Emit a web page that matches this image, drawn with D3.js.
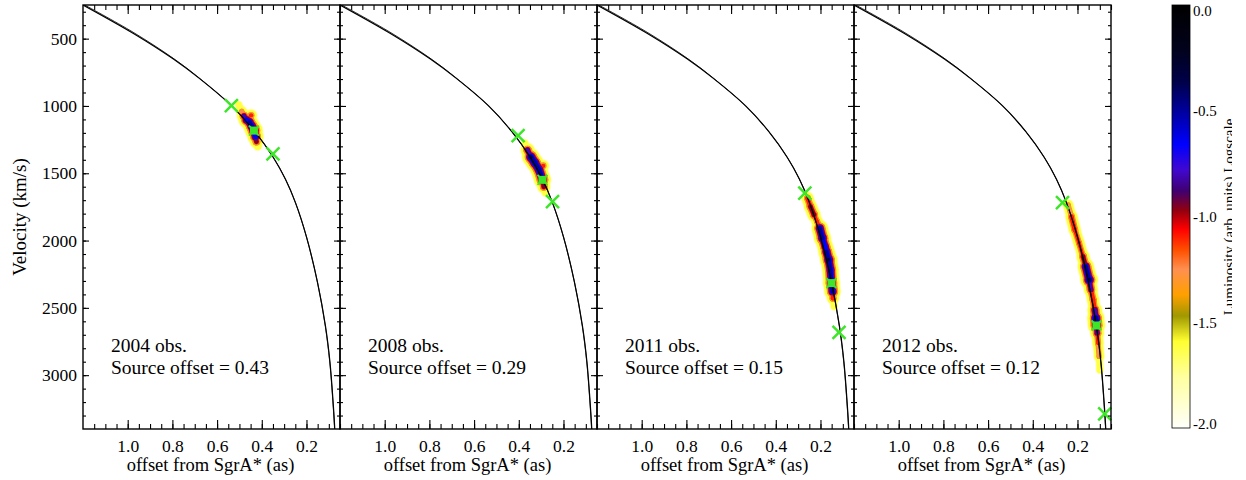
<!DOCTYPE html>
<html>
<head>
<meta charset="utf-8">
<script src="https://cdn.jsdelivr.net/npm/d3@7"></script>
<style>
  body { margin: 0; background: #fff; }
  svg { font-family: "Liberation Serif", "DejaVu Serif", serif; }
</style>
</head>
<body>
<div class="chart"></div>
<script>
// values
var panelYears = ["2004", "2008", "2011", "2012"];
var sourceLabels = ["0.43", "0.29", "0.15", "0.12"];
var xTicks = [1.0, 0.8, 0.6, 0.4, 0.2];
var yTicks = [500, 1000, 1500, 2000, 2500, 3000];
var cbarTicks = [0.0, -0.5, -1.0, -1.5, -2.0];

// orbit model: offset from SgrA* (as) vs velocity (km/s)
var modelOffset = [1.2, 0.976, 0.797, 0.678, 0.536, 0.431, 0.349, 0.294, 0.249, 0.200, 0.151, 0.115, 0.095, 0.078, 0.072];
var modelVelocity = [250, 460, 650, 797, 998, 1191, 1381, 1545, 1720, 1973, 2308, 2635, 2902, 3269, 3443];
// second (nearly identical) model line
var modelOffsetB = [1.2, 0.976, 0.797, 0.678, 0.536, 0.431, 0.349, 0.294, 0.249, 0.200, 0.151, 0.116, 0.096, 0.079, 0.073];
var modelVelocityB = [243, 452, 645, 795, 998, 1191, 1381, 1545, 1720, 1973, 2308, 2635, 2902, 3269, 3443];

// green crosses and the source position in each panel
var crossOffset = [[0.536, 0.350], [0.403, 0.249], [0.270, 0.117], [0.267, 0.078]];
var crossVelocity = [[998, 1356], [1220, 1710], [1648, 2683], [1718, 3287]];
var sourceOffset = [0.435, 0.294, 0.151, 0.115];
var sourceVelocity = [1183, 1549, 2316, 2631];

// emission knots: [offset, velocity, log luminosity]
var emission2004 = [
  [0.503, 992, -1.6], [0.490, 1040, -1.2], [0.480, 1075, -0.8], [0.468, 1104, -0.55],
  [0.455, 1120, -0.5], [0.445, 1150, -0.45], [0.435, 1183, -0.3], [0.428, 1228, -0.55],
  [0.424, 1265, -0.9], [0.418, 1300, -1.5], [0.448, 1070, -1.0]
];
var emission2008 = [
  [0.373, 1275, -1.6], [0.361, 1327, -0.8], [0.346, 1379, -0.35], [0.328, 1423, -0.4],
  [0.309, 1475, -0.45], [0.294, 1549, -0.4], [0.288, 1601, -0.9], [0.281, 1646, -1.6],
  [0.291, 1445, -1.0]
];
var emission2011 = [
  [0.258, 1685, -1.0], [0.245, 1747, -0.9], [0.229, 1809, -0.85], [0.215, 1859, -1.1],
  [0.203, 1908, -0.5], [0.191, 1982, -0.4], [0.179, 2045, -0.6], [0.173, 2082, -0.5],
  [0.163, 2143, -0.35], [0.155, 2218, -0.5], [0.151, 2316, -0.4], [0.146, 2379, -0.5],
  [0.144, 2428, -1.0], [0.139, 2490, -1.6]
];
var emission2012 = [
  [0.242, 1735, -1.2], [0.227, 1822, -1.0], [0.212, 1921, -1.0], [0.193, 2019, -1.1],
  [0.175, 2119, -0.9], [0.163, 2193, -0.5], [0.148, 2292, -0.3], [0.140, 2366, -0.8],
  [0.130, 2440, -1.0], [0.123, 2515, -0.7], [0.118, 2576, -0.4], [0.115, 2631, -0.4],
  [0.112, 2688, -0.8], [0.108, 2762, -1.1], [0.103, 2861, -1.2], [0.100, 2960, -1.6]
];
var emission = [emission2004, emission2008, emission2011, emission2012];

// colour table of the luminosity bar
var cmapValues = [0, -0.21, -0.36, -0.52, -0.66, -0.78, -0.88, -0.97, -1.06, -1.16, -1.25, -1.37, -1.47, -1.59, -1.76, -2.0];
var cmapColors = ["#000000", "#02021c", "#000048", "#0000a8", "#0000ff", "#4008d0", "#400070", "#900010", "#ff0000", "#ff5000", "#ff9050", "#ffa000", "#a09800", "#ffff30", "#ffffa0", "#fffffa"];

var width = 1246;
var height = 480;
var margin = {left: 83, top: 5};
var panelW = 257;
var panelH = 424;
var serif = '"Liberation Serif", "DejaVu Serif", serif';
var green = "#3de628";

var svg = d3.select(".chart")
  .append("svg")
  .attr("width", width)
  .attr("height", height);

var x = d3.scaleLinear().domain([1.2, 0.05]).range([0, panelW]);
var y = d3.scaleLinear().domain([250, 3400]).range([0, panelH]);
var cmap = d3.scaleLinear().domain(cmapValues).range(cmapColors);

var xMinor = d3.range(1, 24).map(i => i * 0.05);
var yMinor = d3.range(3, 34).map(i => i * 100);
// contour levels used to paint the emission
var levels = [-1.9, -1.75, -1.62, -1.4, -1.25, -1.1, -0.95, -0.8, -0.65, -0.5, -0.35, -0.2];

// radius of a knot at a given luminosity level
function radius(L, lev) {
  return 1.8 + 4.2 * (L - lev) + (lev < -1.5 ? 1.2 : 0);
}

var line = d3.line().curve(d3.curveCatmullRom.alpha(0.5));

function styleAxis(g) {
  g.select(".domain").remove();
  g.attr("font-family", serif).attr("font-size", 17.5);
  g.selectAll("line").attr("stroke", "#000").attr("stroke-width", 1.1);
  g.selectAll("text").attr("fill", "#000");
}

panelYears.forEach(function(year, p) {
  var g = svg.append("g")
    .attr("transform", `translate(${margin.left + p * panelW},${margin.top})`);

  g.append("clipPath").attr("id", "clip" + p)
    .append("rect").attr("width", panelW).attr("height", panelH);

  var plot = g.append("g").attr("clip-path", `url(#clip${p})`);

  // emission, drawn as nested luminosity levels
  var knots = emission[p].map(d => ({x: x(d[0]), y: y(d[1]), L: d[2]}));
  levels.forEach(function(lev) {
    var lg = plot.append("g")
      .attr("fill", cmap(lev))
      .attr("stroke", cmap(lev))
      .attr("stroke-linecap", "round");
    for (var i = 0; i < knots.length - 1; i++) {
      var a = knots[i], b = knots[i + 1];
      var dist = Math.hypot(a.x - b.x, a.y - b.y);
      if (a.L >= lev && b.L >= lev && dist < 18) {
        lg.append("line")
          .attr("x1", a.x).attr("y1", a.y)
          .attr("x2", b.x).attr("y2", b.y)
          .attr("stroke-width", 2 * radius(Math.min(a.L, b.L), lev));
      }
    }
    lg.selectAll("circle")
      .data(knots.filter(d => d.L >= lev))
      .enter().append("circle")
      .attr("stroke", "none")
      .attr("cx", d => d.x)
      .attr("cy", d => d.y)
      .attr("r", d => radius(d.L, lev));
  });

  // model lines
  plot.append("path")
    .attr("d", line(modelOffsetB.map((o, i) => [x(o), y(modelVelocityB[i])])))
    .attr("fill", "none").attr("stroke", "#000").attr("stroke-width", 0.8);
  plot.append("path")
    .attr("d", line(modelOffset.map((o, i) => [x(o), y(modelVelocity[i])])))
    .attr("fill", "none").attr("stroke", "#000").attr("stroke-width", 1.2);

  // crosses
  crossOffset[p].forEach(function(o, i) {
    g.append("path")
      .attr("transform", `translate(${x(o)},${y(crossVelocity[p][i])})`)
      .attr("d", "M-6.5,-6.5L6.5,6.5M-6.5,6.5L6.5,-6.5")
      .attr("stroke", green).attr("stroke-width", 2.5).attr("fill", "none");
  });

  // source position
  var sq = g.append("g")
    .attr("transform", `translate(${x(sourceOffset[p])},${y(sourceVelocity[p])})`);
  sq.append("rect").attr("x", -4).attr("y", -4).attr("width", 8).attr("height", 8).attr("fill", green);
  sq.append("path").attr("d", "M-5,-5L5,5M-5,5L5,-5").attr("stroke", green).attr("stroke-width", 2);

  // axes, ticks pointing inward on all four sides
  g.append("g").attr("transform", `translate(0,${panelH})`)
    .call(d3.axisBottom(x).tickValues(xTicks).tickSizeInner(-9).tickSizeOuter(0).tickPadding(11).tickFormat(d3.format(".1f")))
    .call(styleAxis);
  g.append("g").attr("transform", `translate(0,${panelH})`)
    .call(d3.axisBottom(x).tickValues(xMinor).tickSizeInner(-5).tickSizeOuter(0).tickFormat(""))
    .call(styleAxis);
  g.append("g")
    .call(d3.axisTop(x).tickValues(xTicks).tickSizeInner(-9).tickSizeOuter(0).tickFormat(""))
    .call(styleAxis);
  g.append("g")
    .call(d3.axisTop(x).tickValues(xMinor).tickSizeInner(-5).tickSizeOuter(0).tickFormat(""))
    .call(styleAxis);
  g.append("g")
    .call(d3.axisLeft(y).tickValues(yTicks).tickSizeInner(-6).tickSizeOuter(0).tickPadding(6)
      .tickFormat(p === 0 ? d3.format("d") : ""))
    .call(styleAxis);
  g.append("g")
    .call(d3.axisLeft(y).tickValues(yMinor).tickSizeInner(-3).tickSizeOuter(0).tickFormat(""))
    .call(styleAxis);
  g.append("g").attr("transform", `translate(${panelW},0)`)
    .call(d3.axisRight(y).tickValues(yTicks).tickSizeInner(-6).tickSizeOuter(0).tickFormat(""))
    .call(styleAxis);
  g.append("g").attr("transform", `translate(${panelW},0)`)
    .call(d3.axisRight(y).tickValues(yMinor).tickSizeInner(-3).tickSizeOuter(0).tickFormat(""))
    .call(styleAxis);

  // frame
  g.append("rect")
    .attr("width", panelW).attr("height", panelH)
    .attr("fill", "none").attr("stroke", "#000").attr("stroke-width", 1.4);

  // x-axis title
  g.append("text")
    .attr("x", panelW / 2 - 1)
    .attr("y", panelH + 42)
    .attr("text-anchor", "middle")
    .style("font-size", "18.5px")
    .text("offset from SgrA* (as)");

  // panel labels
  g.append("text").attr("x", 28).attr("y", 347)
    .style("font-size", "19.5px").text(year + " obs.");
  g.append("text").attr("x", 28).attr("y", 369)
    .style("font-size", "19.5px").text("Source offset = " + sourceLabels[p]);
});

// y-axis title
svg.append("text")
  .attr("text-anchor", "middle")
  .attr("transform", `translate(26,${margin.top + panelH / 2}) rotate(-90)`)
  .style("font-size", "19px")
  .text("Velocity (km/s)");

// colour bar
var cb = {x: 1172, y: 5, w: 18, h: 423};
var cbScale = d3.scaleLinear().domain([0, -2]).range([cb.y, cb.y + cb.h]);

var grad = svg.append("defs").append("linearGradient")
  .attr("id", "lumgrad")
  .attr("x1", 0).attr("y1", 0).attr("x2", 0).attr("y2", 1);
grad.selectAll("stop")
  .data(cmapValues)
  .enter().append("stop")
  .attr("offset", d => -d / 2)
  .attr("stop-color", d => cmap(d));

svg.append("rect")
  .attr("x", cb.x).attr("y", cb.y)
  .attr("width", cb.w).attr("height", cb.h)
  .attr("fill", "url(#lumgrad)")
  .attr("stroke", "#000").attr("stroke-width", 0.8);

svg.selectAll(".cbar-label")
  .data(cbarTicks)
  .enter().append("text")
  .attr("class", "cbar-label")
  .attr("x", cb.x + cb.w + 3)
  .attr("y", d => Math.min(Math.max(cbScale(d), 11), 424))
  .attr("dy", "0.35em")
  .style("font-size", "15px")
  .text(d => d3.format(".1f")(d).replace("−", "-"));

// colour bar title, cut off at its foot as in the original
svg.append("clipPath").attr("id", "cbclip")
  .append("rect").attr("x", 1200).attr("y", 0).attr("width", 32).attr("height", height);

svg.append("g")
  .attr("clip-path", "url(#cbclip)")
  .append("text")
  .attr("text-anchor", "middle")
  .attr("transform", `translate(1234,217) rotate(-90)`)
  .style("font-size", "15px")
  .text("Luminosity (arb. units) Logscale");
</script>
</body>
</html>
